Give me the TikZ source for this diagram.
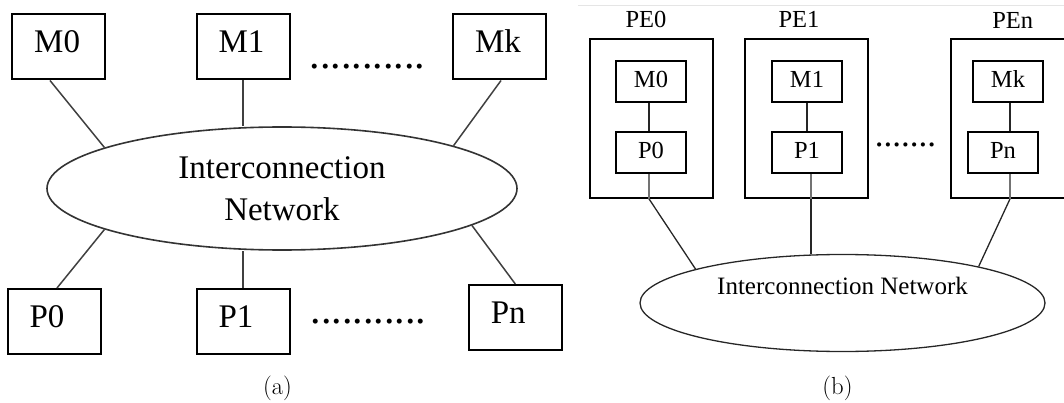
\documentclass[tikz,border=0pt]{standalone}
\usepackage{fontspec}
\newfontfamily\tnr{Liberation Serif}
\usetikzlibrary{shapes.geometric}

\begin{document}
\begin{tikzpicture}[x=1pt,y=-1pt,
  abox/.style={draw,line width=2pt,minimum width=93pt,minimum height=65pt,inner sep=0pt,
    text width=49pt,align=left,text height=22pt,text depth=10pt,font=\tnr\fontsize{33}{40}\selectfont},
  alink/.style={line width=1.5pt,draw=black!75},
  pebox/.style={draw,line width=1.8pt,minimum width=123pt,minimum height=159pt,inner sep=0pt},
  ibox/.style={draw,line width=1.8pt,minimum width=70pt,minimum height=41pt,inner sep=0pt,
    text height=17pt,text depth=4pt,font=\tnr\fontsize{24.5}{28}\selectfont},
  petext/.style={inner sep=0pt,font=\tnr\fontsize{24.5}{28}\selectfont},
  blink/.style={line width=1.3pt,draw=black!85},
  glink/.style={line width=2.4pt,draw=black!55},
  dots/.style={inner sep=0pt,font=\tnr\fontsize{#1}{#1}\selectfont}]
\useasboundingbox (0,0) rectangle (1064,403);

\node[abox] (m0a) at (58.7,47) {M0};
\node[abox] (m1a) at (243,47) {M1};
\node[abox] (mka) at (499.5,47) {Mk};
\node[dots=42] (dta) at (367.5,66.7) {...........};

\node[draw=black!80,line width=1.6pt,ellipse,minimum width=470pt,minimum height=123pt,inner sep=0pt,
  align=center,font=\tnr\fontsize{33}{42}\selectfont] (neta) at (282,188.5) {Interconnection\\Network};

\node[abox] (p0a) at (54,321.5) {P0};
\node[abox] (p1a) at (243,321.5) {P1};
\node[abox] (pna) at (515.3,317.5) {Pn};
\node[dots=42] (dba) at (368.5,322) {...........};

\draw[alink] ([xshift=-8.7pt]m0a.south) -- (neta.167);
\draw[alink] (m1a.south) -- (m1a.south |- neta.north);
\draw[alink] ([xshift=1.5pt]mka.south) -- (neta.14);
\draw[alink] ([xshift=3pt]p0a.north) -- (neta.193);
\draw[alink] (p1a.north) -- (p1a.north |- neta.south);
\draw[alink] (pna.north) -- (neta.-11);

\node[font=\fontsize{24.7}{30}\selectfont,inner sep=0pt] (capa) at (277.5,388.3) {(a)};

\draw[gray!20,line width=0.8pt] (578,5) -- (1064,5);

\node[petext] (pe0t) at (646,19) {PE0};
\node[petext] (pe1t) at (799,19) {PE1};
\node[petext] (pent) at (1012.7,20) {PEn};

\node[pebox] (pe0) at (651.5,118.5) {};
\node[pebox] (pe1) at (806.5,118.5) {};
\node[pebox] (pen) at (1012.2,118.5) {};

\node[ibox] (m0b) at (651,81.5) {M0};
\node[ibox] (m1b) at (807,81.5) {M1};
\node[ibox] (mkb) at (1008,81.5) {Mk};
\node[ibox] (p0b) at (651,152.5) {P0};
\node[ibox] (p1b) at (807,152.5) {P1};
\node[ibox] (pnb) at (1003,152.5) {Pn};
\node[dots=35] (dtb) at (905.5,145) {.......};

\draw[blink] ([xshift=-2pt]m0b.south) -- ([xshift=-2pt]p0b.north);
\draw[blink] (m1b.south) -- (p1b.north);
\draw[blink] ([xshift=2pt]mkb.south) -- ([xshift=2pt]mkb.south |- pnb.north);

\node[draw=black!85,line width=1.3pt,ellipse,minimum width=405pt,minimum height=97pt,inner sep=0pt] (netb) at (842.5,303) {};
\node[inner sep=0pt,font=\tnr\fontsize{25}{28}\selectfont] (netbt) at (842.5,286) {Interconnection Network};

\draw[glink] ([xshift=-2pt]p0b.south) -- ([xshift=-2pt]p0b.south |- pe0.south);
\draw[blink] ([xshift=-2pt]p0b.south |- pe0.south) -- (netb.167);
\draw[glink] ([xshift=4pt]p1b.south) -- ([xshift=4pt]p1b.south |- pe1.south);
\draw[blink] ([xshift=4pt]p1b.south |- pe1.south) -- ([xshift=4pt]p1b.south |- netb.north);
\draw[glink] ([xshift=7pt]pnb.south) -- ([xshift=7pt]pnb.south |- pen.south);
\draw[blink] ([xshift=7pt]pnb.south |- pen.south) -- (netb.15);

\node[font=\fontsize{24.7}{30}\selectfont,inner sep=0pt] (capb) at (837.5,388.3) {(b)};
\end{tikzpicture}
\end{document}
